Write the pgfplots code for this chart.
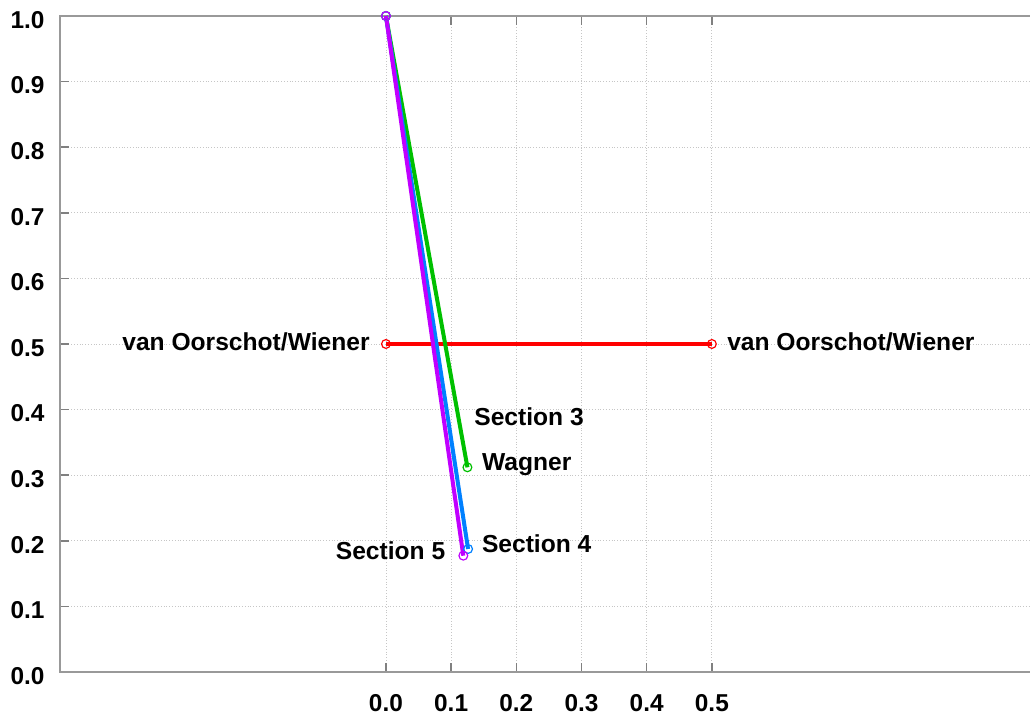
\documentclass[border=0pt]{standalone}
\usepackage{pgfplots}
\pgfplotsset{compat=1.18}
\usepackage{fontspec}
\setmainfont{Liberation Sans}
\definecolor{gpred}{RGB}{255,0,0}
\definecolor{gpgreen}{RGB}{0,192,0}
\definecolor{gpblue}{RGB}{0,128,255}
\definecolor{gppurple}{RGB}{192,0,255}
\begin{document}
\begin{tikzpicture}
\useasboundingbox (-30pt,-21.5pt) rectangle (485pt,336pt);
\begin{axis}[
  scale only axis, width=485pt, height=328pt,
  xmin=-0.5, xmax=0.988, ymin=0, ymax=1,
  xtick={0,0.1,0.2,0.3,0.4,0.5},
  ytick={0,0.1,0.2,0.3,0.4,0.5,0.6,0.7,0.8,0.9,1.0},
  xtick pos=both, ytick pos=left, tick align=inside,
  major tick length=4.5pt,
  tick style={draw=gray, line width=0.8pt},
  grid=major, grid style={densely dotted, gray!45, line width=0.4pt},
  axis line style={draw=none},
  tick label style={font=\fontsize{12.2}{14}\selectfont\bfseries},
  /pgf/number format/assume math mode=true,
  /pgf/number format/fixed, /pgf/number format/fixed zerofill,
  /pgf/number format/precision=1,
  xticklabel style={yshift=-7.5pt},
  yticklabel style={xshift=-4.2pt, yshift=-2pt},
  every axis plot/.append style={line width=2pt, mark=o, mark size=2.2pt,
    mark options={solid, line width=0.6pt}},
  clip=false,
]
\draw[gray!80, line width=1pt] (rel axis cs:1,1) -- (rel axis cs:0,1) -- (rel axis cs:0,0) -- (rel axis cs:1,0);
\addplot[gpred] coordinates {(0,0.5) (0.5,0.5)};
\addplot[gpgreen] coordinates {(0,1) (0.125,0.312)};
\addplot[gpblue] coordinates {(0,1) (0.126,0.1875)};
\addplot[gppurple] coordinates {(0,1) (0.1187,0.1773)};
\begin{scope}[every node/.style={font=\fontsize{12.3}{14}\selectfont\bfseries, inner sep=0pt}]
\node[anchor=base east] at (axis cs:-0.0245,0.490) {van Oorschot/Wiener};
\node[anchor=base west] at (axis cs:0.523,0.490) {van Oorschot/Wiener};
\node[anchor=base west] at (axis cs:0.135,0.375) {Section 3};
\node[anchor=base west] at (axis cs:0.1468,0.307) {Wagner};
\node[anchor=base west] at (axis cs:0.1468,0.182) {Section 4};
\node[anchor=base east] at (axis cs:0.0916,0.171) {Section 5};
\end{scope}
\end{axis}
\end{tikzpicture}
\end{document}
